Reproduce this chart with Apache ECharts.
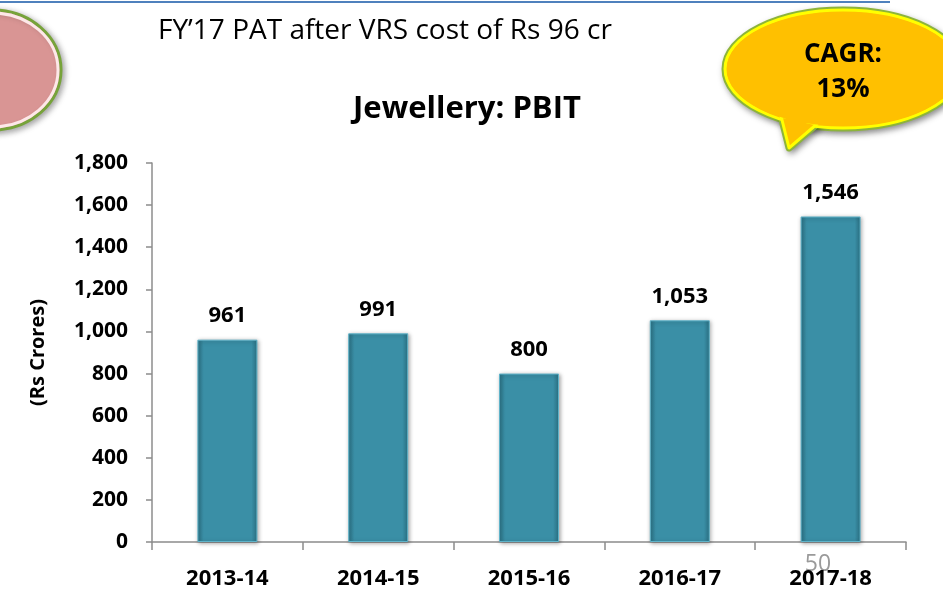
<!DOCTYPE html>
<html lang="en">
<head>
<meta charset="utf-8" />
<script type="text/javascript" src="https://cdn.jsdelivr.net/npm/echarts@6/dist/echarts.min.js"></script>
<style>
	html, body { margin: 0; padding: 0; background: #ffffff; }
	#main { width: 943px; height: 596px; }
</style>
</head>
<body>
<div id="main"></div>
<script type="text/javascript">
	// chart data
	var years = ['2013-14', '2014-15', '2015-16', '2016-17', '2017-18'];
	var pbit = [961, 991, 800, 1053, 1546];
	var yTicks = { min: 0, max: 1800, step: 200 };

	var font = '"Open Sans", "Liberation Sans", sans-serif';

	function commas(v) {
		return String(v).replace(/\B(?=(\d{3})+(?!\d))/g, ',');
	}

	// speech bubble pieces (ellipse + tail)
	var bub = { cx: 843, cy: 69, rx: 118, ry: 59 };
	var tail = [[781, 116], [789, 148], [817, 124]];
	var tailInner = [[784, 110], [790, 143], [813, 115]];

	var chart = echarts.init(document.getElementById('main'));
	var option = {
		backgroundColor: '#ffffff',
		animation: false,
		title: {
			text: 'Jewellery: PBIT',
			left: 462,
			textAlign: 'center',
			top: 89,
			textStyle: { fontFamily: font, fontSize: 31, fontWeight: 'bold', color: '#000' }
		},
		grid: { left: 152, right: 37, top: 163, bottom: 54 },
		xAxis: {
			type: 'category',
			data: years,
			axisLine: { lineStyle: { color: '#8c8c8c', width: 1.5 } },
			axisTick: { show: true, length: 8, lineStyle: { color: '#8c8c8c', width: 1.5 } },
			axisLabel: { margin: 26, fontFamily: font, fontSize: 22, fontWeight: 'bold', color: '#000' }
		},
		yAxis: {
			type: 'value',
			min: yTicks.min,
			max: yTicks.max,
			interval: yTicks.step,
			name: '(Rs Crores)',
			nameLocation: 'middle',
			nameGap: 104,
			nameTextStyle: { fontFamily: font, fontSize: 20, fontWeight: 'bold', color: '#000' },
			axisLine: { show: true, lineStyle: { color: '#8c8c8c', width: 1.5 } },
			axisTick: { show: true, length: 6, lineStyle: { color: '#8c8c8c', width: 1.5 } },
			splitLine: { show: false },
			axisLabel: {
				margin: 24,
				fontFamily: font, fontSize: 21, fontWeight: 'bold', color: '#000',
				formatter: function (v) { return commas(v); }
			}
		},
		series: [{
			type: 'bar',
			data: pbit,
			barWidth: 60,
			itemStyle: {
				color: new echarts.graphic.LinearGradient(0, 0, 1, 0, [
					{ offset: 0, color: '#2b7285' },
					{ offset: 0.1, color: '#3a8fa6' },
					{ offset: 0.9, color: '#3a8fa6' },
					{ offset: 1, color: '#2b7285' }
				]),
				borderColor: '#5fb3c9',
				borderWidth: 1,
				shadowColor: 'rgba(0,0,0,0.35)',
				shadowBlur: 4,
				shadowOffsetX: 1,
				shadowOffsetY: 1
			},
			label: {
				show: true,
				position: 'top',
				distance: 13,
				fontFamily: font, fontSize: 22, fontWeight: 'bold', color: '#000',
				formatter: function (p) { return commas(p.value); }
			}
		}],
		graphic: [
			// blue rule at top
			{ type: 'line', shape: { x1: 0, y1: 2, x2: 890, y2: 2 }, style: { stroke: '#4f81bd', lineWidth: 2 } },
			// pink oval at left
			{
				type: 'ellipse', shape: { cx: -8, cy: 70, rx: 69, ry: 60 },
				style: { fill: '#d99594', stroke: '#77a33a', lineWidth: 3, shadowColor: 'rgba(0,0,0,0.35)', shadowBlur: 6, shadowOffsetX: 2, shadowOffsetY: 2 }
			},
			{ type: 'ellipse', shape: { cx: -8, cy: 70, rx: 66, ry: 57 }, style: { fill: 'none', stroke: '#fde8e8', lineWidth: 3 } },
			// subtitle text
			{
				type: 'text', x: 158, y: 31,
				style: { text: 'FY\u201917 PAT after VRS cost of Rs 96 cr', verticalAlign: 'middle', fontFamily: font, fontSize: 28, fill: '#000' }
			},
			// speech bubble: outer green edge
			{
				type: 'ellipse', shape: bub,
				style: { fill: '#ffc000', stroke: '#8db43a', lineWidth: 7, shadowColor: 'rgba(0,0,0,0.35)', shadowBlur: 6, shadowOffsetX: 2, shadowOffsetY: 3 }
			},
			{
				type: 'polygon', shape: { points: tail },
				style: { fill: '#ffc000', stroke: '#8db43a', lineWidth: 7, lineJoin: 'round', shadowColor: 'rgba(0,0,0,0.35)', shadowBlur: 6, shadowOffsetX: 2, shadowOffsetY: 3 }
			},
			// yellow edge
			{ type: 'ellipse', shape: bub, style: { fill: '#ffc000', stroke: '#ffff00', lineWidth: 3 } },
			{ type: 'polygon', shape: { points: tail }, style: { fill: '#ffc000', stroke: '#ffff00', lineWidth: 3, lineJoin: 'round' } },
			// fill to merge the two
			{ type: 'ellipse', shape: { cx: bub.cx, cy: bub.cy, rx: bub.rx - 2, ry: bub.ry - 2 }, style: { fill: '#ffc000' } },
			{ type: 'polygon', shape: { points: tailInner }, style: { fill: '#ffc000' } },
			{
				type: 'text', x: 843, y: 72,
				style: {
					text: 'CAGR:\n13%', align: 'center', verticalAlign: 'middle', lineHeight: 35,
					fontFamily: font, fontSize: 26, fontWeight: 'bold', fill: '#000'
				}
			},
			// slide number
			{
				type: 'text', x: 818, y: 564,
				style: { text: '50', align: 'center', verticalAlign: 'middle', fontFamily: font, fontSize: 23, fill: '#9a9a9a' }
			}
		]
	};
	chart.setOption(option);
</script>
</body>
</html>
